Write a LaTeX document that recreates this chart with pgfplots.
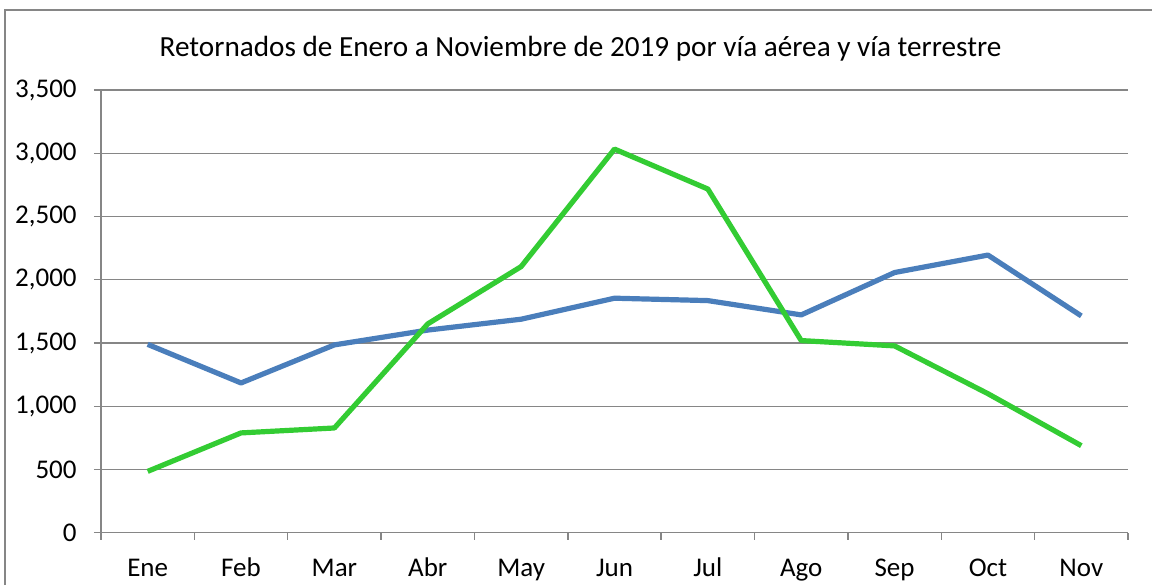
\documentclass[border=0pt]{standalone}
\usepackage{pgfplots}
\pgfplotsset{compat=1.18}
\usepackage{fontspec}
\setmainfont{Carlito}
\definecolor{gridc}{HTML}{868686}
\definecolor{blueline}{HTML}{4A7EBB}
\definecolor{greenline}{HTML}{33CC33}
\begin{document}
\begin{tikzpicture}
\useasboundingbox (0,0) rectangle (576pt,292.5pt);
\draw[gridc, line width=0.8pt] (2.5pt,0) -- (2.5pt,287.5pt) -- (576pt,287.5pt);
\node[font=\fontsize{14.6}{17}\selectfont, anchor=center] at (290.25pt,268pt) {Retornados de Enero a Noviembre de 2019 por vía aérea y vía terrestre};
\begin{axis}[
  at={(50.5pt,26.15pt)}, anchor=south west,
  scale only axis, width=513.5pt, height=221.35pt,
  xmin=-0.5, xmax=10.5, ymin=0, ymax=3500,
  axis lines*=left,
  axis line style={gridc, line width=0.7pt},
  ytick={0,500,...,3500},
  yticklabels={0,500,{1,000},{1,500},{2,000},{2,500},{3,000},{3,500}},
  xtick={-0.5,0.5,...,10.5},
  xticklabels={},
  extra x ticks={0,...,10},
  extra x tick labels={Ene,Feb,Mar,Abr,May,Jun,Jul,Ago,Sep,Oct,Nov},
  extra x tick style={major tick length=0pt, tick style={draw=none}, grid=none,
    xticklabel style={anchor=base, inner sep=0pt, yshift=-21.8pt}},
  tick style={gridc, line width=0.7pt},
  tick align=outside,
  major tick length=3.5pt,
  ymajorgrids,
  grid style={gridc, line width=0.7pt},
  ticklabel style={font=\fontsize{13.5}{16}\selectfont},
  yticklabel style={anchor=east, inner sep=0pt, xshift=-8.5pt},
  line join=round,
]
\addplot[blueline, line width=2.6pt] coordinates {
(0,1489) (1,1184) (2,1485) (3,1602) (4,1688) (5,1854) (6,1835) (7,1722) (8,2057) (9,2195) (10,1714)};
\addplot[greenline, line width=2.6pt] coordinates {
(0,485) (1,789) (2,828) (3,1651) (4,2104) (5,3033) (6,2717) (7,1519) (8,1477) (9,1099) (10,688)};
\end{axis}
\end{tikzpicture}
\end{document}
